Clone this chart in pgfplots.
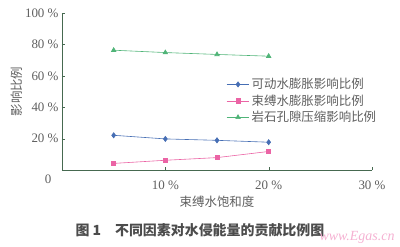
\documentclass[border=0pt]{standalone}
\usepackage{pgfplots}
\pgfplotsset{compat=1.18}
\usepackage{fontspec}
\setmainfont{Liberation Serif}
\newfontfamily\cjk{Noto Sans CJK SC}
\definecolor{cblue}{RGB}{70,110,180}
\definecolor{cpink}{RGB}{235,100,165}
\definecolor{cgreen}{RGB}{80,180,120}
\definecolor{caxis}{RGB}{70,105,80}
\definecolor{ctext}{RGB}{95,95,95}
\begin{document}
\begin{tikzpicture}[x=1bp,y=1bp]
\begin{axis}[
  at={(62bp,77bp)}, anchor=south west,
  scale only axis, width=310bp, height=157bp,
  xmin=0, xmax=30, ymin=0, ymax=100,
  axis lines=left, axis line style={caxis, -},
  xtick={10,20,30}, xticklabels={10 \%,20 \%,30 \%},
  ytick={20,40,60,80,100}, yticklabels={20 \%,40 \%,60 \%,80 \%,100 \%},
  tick style={caxis}, tick align=inside, major tick length=3bp,
  tick label style={font=\fontsize{13}{14}\selectfont, text=ctext},
  xticklabel style={yshift=-7bp},
  /pgf/number format/assume math mode=true,
  xlabel={\cjk 束缚水饱和度}, ylabel={\cjk 影响比例},
  label style={font=\fontsize{12.5}{14}\selectfont, text=ctext},
  xlabel style={at={(axis description cs:0.5,0)}, anchor=center, yshift=-32bp},
  ylabel style={yshift=-4bp},
  legend style={at={(0.52,0.61)}, anchor=north west, draw=none, fill=none,
    font=\cjk\fontsize{12.5}{14}\selectfont, text=ctext, row sep=0.5bp},
  legend cell align=left,
  legend image code/.code={\draw[mark repeat=2,mark phase=2,#1] plot coordinates {(0cm,0cm) (0.4cm,0cm) (0.8cm,0cm)};},
  clip=false,
]
\addplot[cblue, mark=diamond*, mark size=2.6bp, semithick] coordinates {(5,22.1) (10,19.8) (15,18.9) (20,17.7)};
\addlegendentry{可动水膨胀影响比例}
\addplot[cpink, mark=square*, mark size=2.1bp, semithick] coordinates {(5,4.2) (10,6.2) (15,7.9) (20,11.8)};
\addlegendentry{束缚水膨胀影响比例}
\addplot[cgreen, mark=triangle*, mark size=2.6bp, semithick] coordinates {(5,76.3) (10,74.8) (15,73.6) (20,72.5)};
\addlegendentry{岩石孔隙压缩影响比例}
\node[font=\fontsize{13}{14}\selectfont, text=ctext, anchor=center] at (axis cs:0,0) [xshift=-14bp, yshift=-9bp] {0};
\end{axis}
\node[font=\cjk\bfseries\fontsize{14}{16}\selectfont, text=ctext!80!black, anchor=west] at (72bp,17bp) {图 1\quad 不同因素对水侵能量的贡献比例图};
\node[font=\itshape\fontsize{14}{16}\selectfont, text=cpink!50, anchor=east] at (398bp,10bp) {www.Egas.cn};
\pgfresetboundingbox
\path (0,0) rectangle (400bp,247bp);
\end{tikzpicture}
\end{document}
